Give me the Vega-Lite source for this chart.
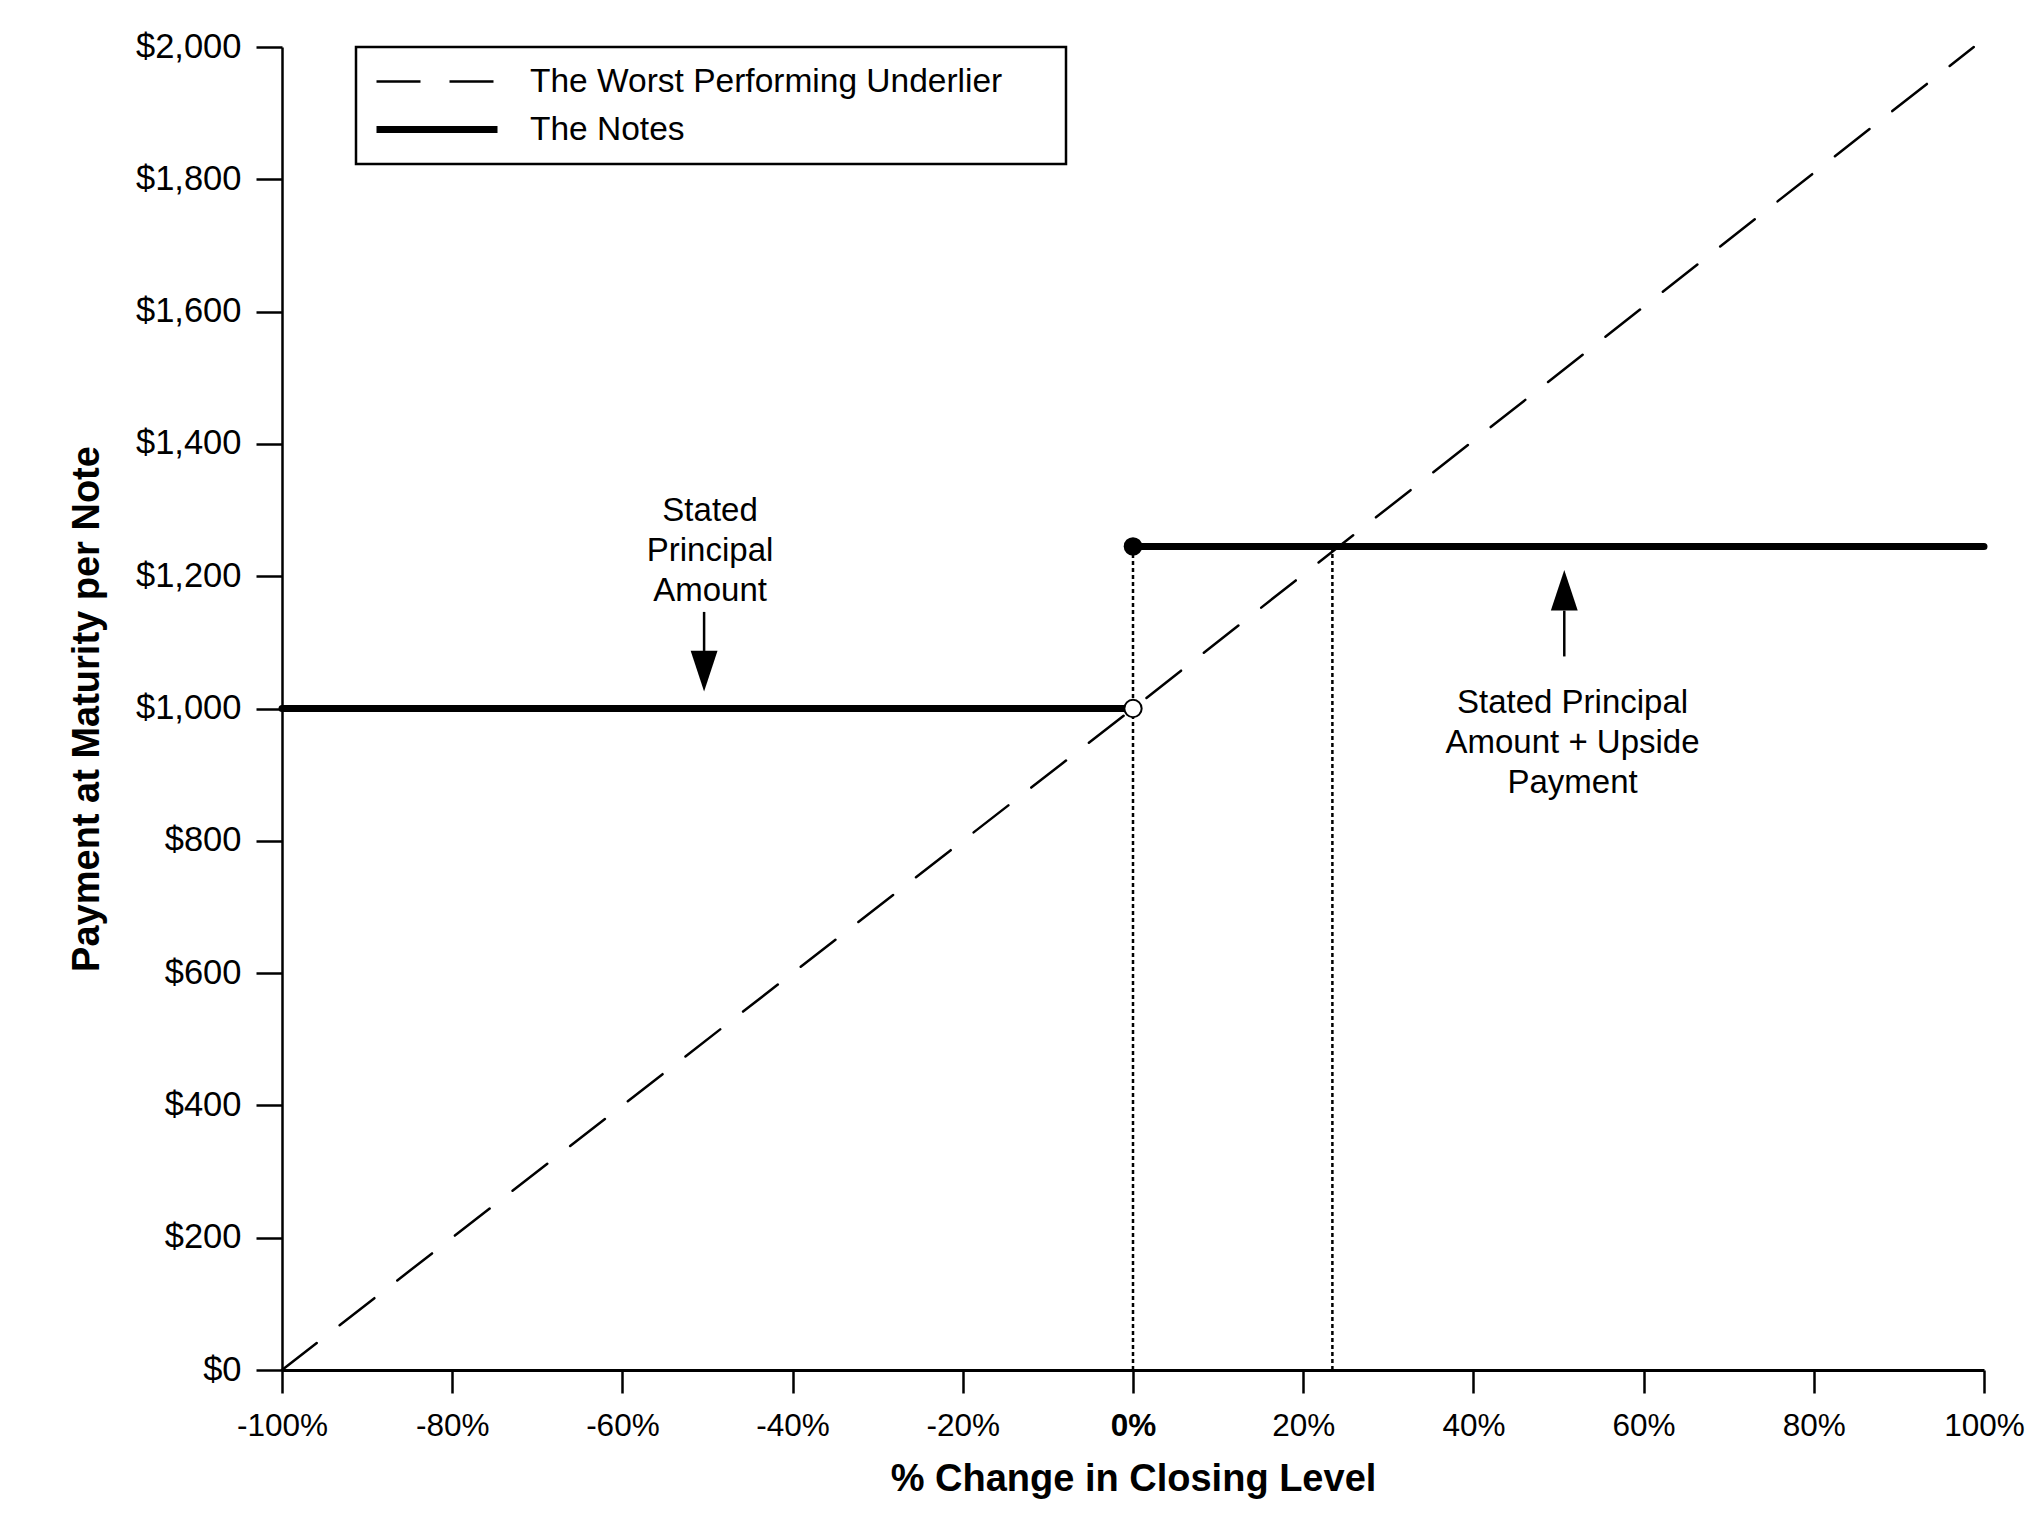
{
  "$schema": "https://vega.github.io/schema/vega-lite/v6.json",
  "autosize": {"type": "none"},
  "padding": {"left": 282, "top": 47, "right": 41, "bottom": 157},
  "width": 1702,
  "height": 1323,
  "background": "white",
  "datasets": {
    "lines": [
      {"series": "The Worst Performing Underlier", "seg": "u", "pct": -1, "pay": 0},
      {"series": "The Worst Performing Underlier", "seg": "u", "pct": 0, "pay": 1000},
      {"series": "The Worst Performing Underlier", "seg": "u", "pct": 0.988, "pay": 2000},
      {"series": "The Notes", "seg": "a", "pct": -1, "pay": 1000},
      {"series": "The Notes", "seg": "a", "pct": 0, "pay": 1000},
      {"series": "The Notes", "seg": "b", "pct": 0, "pay": 1245},
      {"series": "The Notes", "seg": "b", "pct": 1, "pay": 1245}
    ],
    "guides": [
      {"pct": 0, "lo": 0, "hi": 1245},
      {"pct": 0.2343, "lo": 0, "hi": 1245}
    ],
    "notes": [
      {"pct": -0.497, "pay": 1298, "label": ["Stated", "Principal", "Amount"]},
      {"pct": 0.5165, "pay": 1009, "label": ["Stated Principal", "Amount + Upside", "Payment"]}
    ],
    "shafts": [
      {"pct": -0.504, "from": 1146, "to": 1087},
      {"pct": 0.5068, "from": 1078.7, "to": 1148}
    ],
    "heads": [
      {"pct": -0.504, "pay": 1025.7, "dir": "down"},
      {"pct": 0.5068, "pay": 1209.5, "dir": "up"}
    ]
  },
  "encoding": {
    "x": {
      "field": "pct",
      "type": "quantitative",
      "scale": {"domain": [-1, 1], "nice": false, "zero": false},
      "axis": {
        "title": "% Change in Closing Level",
        "values": [-1, -0.8, -0.6, -0.4, -0.2, 0, 0.2, 0.4, 0.6, 0.8, 1],
        "labelExpr": "(datum.value < -0.001 ? '-' : '') + format(abs(datum.value) * 100, '.0f') + '%'",
        "labelFontWeight": {"condition": {"test": "abs(datum.value) < 0.001", "value": "bold"}, "value": "normal"},
        "labelFlush": false,
        "labelFontSize": 31.5,
        "tickSize": 23,
        "labelPadding": 17,
        "titlePadding": 19,
        "domainWidth": 3
      }
    },
    "y": {
      "field": "pay",
      "type": "quantitative",
      "scale": {"domain": [0, 2000], "nice": false},
      "axis": {
        "title": "Payment at Maturity per Note",
        "values": [0, 200, 400, 600, 800, 1000, 1200, 1400, 1600, 1800, 2000],
        "format": "$,.0f",
        "tickSize": 26,
        "labelPadding": 15,
        "titlePadding": 29,
        "domainWidth": 2.5
      }
    }
  },
  "layer": [
    {
      "data": {"name": "lines"},
      "mark": {"type": "line", "color": "black", "strokeCap": "round"},
      "encoding": {
        "detail": {"field": "seg"},
        "strokeDash": {
          "field": "series",
          "type": "ordinal",
          "scale": {"domain": ["The Worst Performing Underlier", "The Notes"], "range": [[44, 29], [1, 0]]},
          "legend": {"title": null, "labelExpr": "datum.label + '\u00a0\u00a0\u00a0\u00a0\u00a0\u200b'"}
        },
        "strokeWidth": {
          "field": "series",
          "type": "ordinal",
          "scale": {"domain": ["The Worst Performing Underlier", "The Notes"], "range": [2.5, 7]},
          "legend": {"title": null, "labelExpr": "datum.label + '\u00a0\u00a0\u00a0\u00a0\u00a0\u200b'"}
        }
      }
    },
    {
      "data": {"name": "guides"},
      "mark": {"type": "rule", "color": "black", "strokeWidth": 2.5, "strokeDash": [4, 3]},
      "encoding": {
        "y": {"field": "lo", "type": "quantitative"},
        "y2": {"field": "hi"}
      }
    },
    {
      "data": {"name": "lines"},
      "transform": [{"filter": "datum.seg == 'b' && datum.pct == 0"}],
      "mark": {"type": "point", "filled": true, "color": "black", "opacity": 1, "size": 346}
    },
    {
      "data": {"name": "lines"},
      "transform": [{"filter": "datum.seg == 'a' && datum.pct == 0"}],
      "mark": {"type": "point", "filled": true, "fill": "white", "stroke": "black", "strokeWidth": 2, "opacity": 1, "size": 300}
    },
    {
      "data": {"name": "shafts"},
      "mark": {"type": "rule", "color": "black", "strokeWidth": 2.5},
      "encoding": {
        "y": {"field": "from", "type": "quantitative"},
        "y2": {"field": "to"}
      }
    },
    {
      "data": {"name": "heads"},
      "transform": [{"filter": "datum.dir == 'down'"}],
      "mark": {"type": "point", "shape": "M0,0L-0.66,-2L0.66,-2Z", "filled": true, "color": "black", "opacity": 1, "size": 1657}
    },
    {
      "data": {"name": "heads"},
      "transform": [{"filter": "datum.dir == 'up'"}],
      "mark": {"type": "point", "shape": "M0,0L-0.66,2L0.66,2Z", "filled": true, "color": "black", "opacity": 1, "size": 1657}
    },
    {
      "data": {"name": "notes"},
      "mark": {"type": "text", "align": "center", "baseline": "middle", "fontSize": 33, "lineHeight": 40, "font": "Liberation Sans", "color": "black"},
      "encoding": {"text": {"field": "label"}}
    }
  ],
  "config": {
    "view": {"stroke": null},
    "font": "Liberation Sans",
    "axis": {
      "grid": false,
      "domainColor": "black",
      "tickColor": "black",
      "tickWidth": 2.5,
      "labelColor": "black",
      "labelFont": "Liberation Sans",
      "labelFontSize": 34.5,
      "titleColor": "black",
      "titleFont": "Liberation Sans",
      "titleFontSize": 38,
      "titleFontWeight": "bold"
    },
    "legend": {
      "orient": "none",
      "legendX": 74,
      "legendY": 0,
      "strokeColor": "black",
      "strokeWidth": 2.5,
      "fillColor": "white",
      "padding": 17,
      "rowPadding": 13,
      "clipHeight": 35,
      "symbolType": "stroke",
      "symbolSize": 14641,
      "symbolStrokeColor": "black",
      "symbolOffset": 0,
      "labelOffset": 29,
      "labelFont": "Liberation Sans",
      "labelFontSize": 33.5,
      "labelColor": "black",
      "labelLimit": 0
    }
  }
}
